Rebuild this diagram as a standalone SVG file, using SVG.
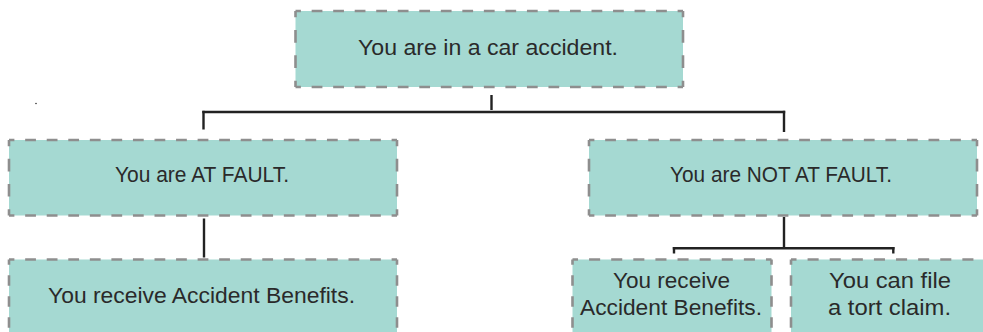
<svg xmlns="http://www.w3.org/2000/svg" width="983" height="332" viewBox="0 0 983 332">
  <style>
    .box { fill: #a5d9d2; stroke: none; }
    .edge { stroke: #8e8e8e; stroke-width: 2.6; fill: none; stroke-linecap: butt; }
    .low { stroke-dasharray: 10.5 10.5; stroke-dashoffset: 5.25; }
    .lbl { font-family: "Liberation Sans", Arial, sans-serif; font-size: 22px; fill: #2a2a2a; text-anchor: middle; }
    .wire { stroke: #222; stroke-width: 2.4; fill: none; stroke-linecap: butt; }
  </style>

  <rect width="983" height="332" fill="#ffffff"/>

  <!-- connectors -->
  <g id="connectors">
    <line class="wire" x1="491.5" y1="95" x2="491.5" y2="110"/>
    <line class="wire" x1="202.3" y1="112" x2="785.2" y2="112"/>
    <line class="wire" x1="203.5" y1="110.8" x2="203.5" y2="129.5"/>
    <line class="wire" x1="784" y1="110.8" x2="784" y2="132"/>
    <line class="wire" x1="204" y1="218.5" x2="204" y2="257.5"/>
    <line class="wire" x1="784" y1="217" x2="784" y2="248"/>
    <line class="wire" x1="672.8" y1="248.3" x2="894.5" y2="248.3"/>
    <line class="wire" x1="674" y1="247" x2="674" y2="253.5"/>
    <line class="wire" x1="893.3" y1="247" x2="893.3" y2="253.5"/>
  </g>

  <circle cx="36" cy="103.5" r="0.8" fill="#333"/>

  <!-- top: accident -->
  <g id="accident">
    <rect class="box" x="295.5" y="11" width="387.5" height="76"/>
    <line class="edge" x1="295.5" y1="11" x2="683" y2="11" style="stroke-dasharray:10.764 10.764;stroke-dashoffset:5.382"/>
    <line class="edge" x1="295.5" y1="87" x2="683" y2="87" style="stroke-dasharray:10.764 10.764;stroke-dashoffset:5.382"/>
    <line class="edge" x1="295.5" y1="11" x2="295.5" y2="87" style="stroke-dasharray:12.667 12.667;stroke-dashoffset:6.333"/>
    <line class="edge" x1="683" y1="11" x2="683" y2="87" style="stroke-dasharray:12.667 12.667;stroke-dashoffset:6.333"/>
    <text class="lbl" x="488" y="54.5" textLength="260" lengthAdjust="spacingAndGlyphs">You are in a car accident.</text>
  </g>

  <!-- at fault -->
  <g id="at-fault">
    <rect class="box" x="9" y="140" width="388" height="75.5"/>
    <line class="edge" x1="9" y1="140" x2="397" y2="140" style="stroke-dasharray:10.778 10.778;stroke-dashoffset:5.389"/>
    <line class="edge" x1="9" y1="215.5" x2="397" y2="215.5" style="stroke-dasharray:10.778 10.778;stroke-dashoffset:5.389"/>
    <line class="edge" x1="9" y1="140" x2="9" y2="215.5" style="stroke-dasharray:12.583 12.583;stroke-dashoffset:6.292"/>
    <line class="edge" x1="397" y1="140" x2="397" y2="215.5" style="stroke-dasharray:12.583 12.583;stroke-dashoffset:6.292"/>
    <text class="lbl" x="202" y="182" textLength="174" lengthAdjust="spacingAndGlyphs">You are AT FAULT.</text>
  </g>

  <!-- not at fault -->
  <g id="not-at-fault">
    <rect class="box" x="589" y="140" width="388" height="75.5"/>
    <line class="edge" x1="589" y1="140" x2="977" y2="140" style="stroke-dasharray:10.778 10.778;stroke-dashoffset:5.389"/>
    <line class="edge" x1="589" y1="215.5" x2="977" y2="215.5" style="stroke-dasharray:10.778 10.778;stroke-dashoffset:5.389"/>
    <line class="edge" x1="589" y1="140" x2="589" y2="215.5" style="stroke-dasharray:12.583 12.583;stroke-dashoffset:6.292"/>
    <line class="edge" x1="977" y1="140" x2="977" y2="215.5" style="stroke-dasharray:12.583 12.583;stroke-dashoffset:6.292"/>
    <text class="lbl" x="781" y="182" textLength="222" lengthAdjust="spacingAndGlyphs">You are NOT AT FAULT.</text>
  </g>

  <!-- benefits (at fault); box runs past the bottom edge -->
  <g id="benefits-left">
    <rect class="box" x="9" y="259.5" width="388" height="80"/>
    <line class="edge" x1="9" y1="259.5" x2="397" y2="259.5" style="stroke-dasharray:10.778 10.778;stroke-dashoffset:5.389"/>
    <line class="edge low" x1="9" y1="259.5" x2="9" y2="340"/>
    <line class="edge low" x1="397" y1="259.5" x2="397" y2="340"/>
    <text class="lbl" x="201.5" y="303" textLength="307" lengthAdjust="spacingAndGlyphs">You receive Accident Benefits.</text>
  </g>

  <!-- benefits (not at fault) -->
  <g id="benefits-right">
    <rect class="box" x="572.5" y="259.5" width="199" height="80"/>
    <line class="edge" x1="572.5" y1="259.5" x2="771.5" y2="259.5" style="stroke-dasharray:11.056 11.056;stroke-dashoffset:5.528"/>
    <line class="edge low" x1="572.5" y1="259.5" x2="572.5" y2="340"/>
    <line class="edge low" x1="771.5" y1="259.5" x2="771.5" y2="340"/>
    <text class="lbl" x="671.5" y="288" textLength="117" lengthAdjust="spacingAndGlyphs">You receive</text>
    <text class="lbl" x="671" y="315" textLength="182" lengthAdjust="spacingAndGlyphs">Accident Benefits.</text>
  </g>

  <!-- tort claim -->
  <g id="tort-claim">
    <rect class="box" x="791" y="259.5" width="199" height="80"/>
    <line class="edge" x1="791" y1="259.5" x2="990" y2="259.5" style="stroke-dasharray:11.056 11.056;stroke-dashoffset:5.528"/>
    <line class="edge low" x1="791" y1="259.5" x2="791" y2="340"/>
    <text class="lbl" x="890" y="288" textLength="122" lengthAdjust="spacingAndGlyphs">You can file</text>
    <text class="lbl" x="889.5" y="315" textLength="123" lengthAdjust="spacingAndGlyphs">a tort claim.</text>
  </g>
</svg>
